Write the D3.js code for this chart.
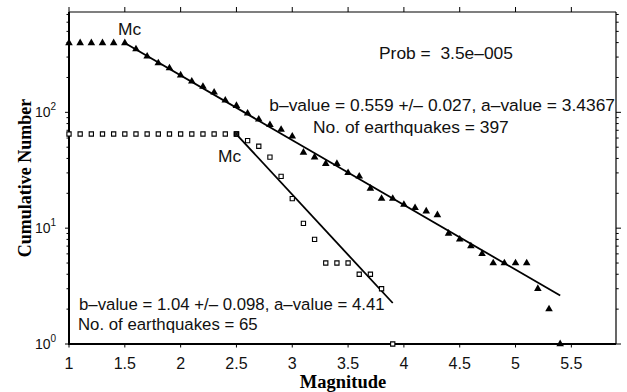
<!DOCTYPE html>
<html><head><meta charset="utf-8">
<script src="https://cdn.jsdelivr.net/npm/d3@7"></script>
<style>body{margin:0;background:#fff;} svg{display:block;}</style>
</head><body><div id="chart"></div>
<script>
// ---- data ----
const allMags   = [1.0,1.1,1.2,1.3,1.4,1.5,1.6,1.7,1.8,1.9,2.0,2.1,2.2,2.3,2.4,2.5,2.6,2.7,2.8,2.9,3.0,3.1,3.2,3.3,3.4,3.5,3.6,3.7,3.8,3.9,4.0,4.1,4.2,4.3,4.4,4.5,4.6,4.7,4.8,4.9,5.0,5.1,5.2,5.3,5.4];
const allCounts = [397,397,397,397,397,397,352,304,266,241,209,185,167,149,127,114,98,87,78,71,62,45,41,36,36,30,28,22,18,18,16,15,14,13,9,8,7,6,5,5,5,5,3,2,1];
const subMags   = [1.0,1.1,1.2,1.3,1.4,1.5,1.6,1.7,1.8,1.9,2.0,2.1,2.2,2.3,2.4,2.5,2.6,2.7,2.8,2.9,3.0,3.1,3.2,3.3,3.4,3.5,3.6,3.7,3.8,3.9];
const subCounts = [65,65,65,65,65,65,65,65,65,65,65,65,65,65,65,65,57,51,41,28,18,11,8,5,5,5,4,4,3,1];
const fitMc   = [1.5, 2.5];
const fitMmax = [5.4, 3.9];
const fitB    = [0.559, 1.04];
const fitA    = [3.4367, 4.41];
const xTicks = [1,1.5,2,2.5,3,3.5,4,4.5,5,5.5];
const xTickLabels = ["1","1.5","2","2.5","3","3.5","4","4.5","5","5.5"];
const yMajor = [1,10,100];
const yMajorExp = ["0","1","2"];
const yMinor = [2,3,4,5,6,7,8,9,20,30,40,50,60,70,80,90,200,300,400,500,600,700];
const xTitle = "Magnitude";
const yTitle = "Cumulative Number";
const probText = "Prob =  3.5e\u2013005";
const fitText1 = ["b\u2013value = 0.559 +/\u2013 0.027, a\u2013value = 3.4367", "No. of earthquakes = 397"];
const fitText2 = ["b\u2013value = 1.04 +/\u2013 0.098, a\u2013value = 4.41", "No. of earthquakes = 65"];
const mcLabel = "Mc";

// ---- chart ----
const W = 627, H = 392;
const L = 69, R = 616, T = 12, B = 344;
const svg = d3.select("#chart").append("svg").attr("width", W).attr("height", H);
const x = d3.scaleLinear().domain([1, 5.9]).range([L, R]);
const y = d3.scaleLog().domain([1, 735]).range([B, T]);
const sans = "Liberation Sans, Arial, sans-serif";
const serif = "Liberation Serif, Times New Roman, serif";

// ticks
const g = svg.append("g").attr("stroke", "#000");
g.selectAll(".tt").data(xTicks).join("line")
  .attr("x1", d => x(d)).attr("x2", d => x(d)).attr("y1", T).attr("y2", T - 5).attr("stroke-width", 1);
g.selectAll(".bt").data(xTicks).join("line")
  .attr("x1", d => x(d)).attr("x2", d => x(d)).attr("y1", B).attr("y2", B + 3.5).attr("stroke-width", 1);
g.selectAll(".lM").data(yMajor).join("line")
  .attr("x1", L).attr("x2", L - 4).attr("y1", d => y(d)).attr("y2", d => y(d)).attr("stroke-width", 1);
g.selectAll(".lm").data(yMinor).join("line")
  .attr("x1", L).attr("x2", L - 2.5).attr("y1", d => y(d)).attr("y2", d => y(d)).attr("stroke-width", 1);
g.selectAll(".rM").data(yMajor).join("line")
  .attr("x1", R).attr("x2", R + 5).attr("y1", d => y(d)).attr("y2", d => y(d)).attr("stroke-width", 1);
g.selectAll(".rm").data(yMinor).join("line")
  .attr("x1", R).attr("x2", R + 2.7).attr("y1", d => y(d)).attr("y2", d => y(d)).attr("stroke-width", 1);

// frame
svg.append("line").attr("x1", L).attr("x2", R).attr("y1", T).attr("y2", T).attr("stroke", "#000").attr("stroke-width", 1.2);
svg.append("line").attr("x1", R).attr("x2", R).attr("y1", T).attr("y2", B).attr("stroke", "#000").attr("stroke-width", 1.2);
svg.append("line").attr("x1", L).attr("x2", L).attr("y1", T).attr("y2", B + 1).attr("stroke", "#000").attr("stroke-width", 2);
svg.append("line").attr("x1", L - 1).attr("x2", R).attr("y1", B).attr("y2", B).attr("stroke", "#000").attr("stroke-width", 2);

// x tick labels
svg.selectAll(".xl").data(xTicks).join("text")
  .attr("x", d => x(d)).attr("y", B + 25).attr("text-anchor", "middle")
  .attr("font-family", sans).attr("font-size", 16).attr("fill", "#111")
  .text((d, i) => xTickLabels[i]);

// y tick labels
const yl = svg.selectAll(".yl").data(yMajor).join("text")
  .attr("x", 35).attr("y", d => y(d) + 5)
  .attr("font-family", sans).attr("font-size", 14).attr("fill", "#111");
yl.append("tspan").text("10");
yl.append("tspan").attr("dy", -7).attr("font-size", 10).text((d, i) => yMajorExp[i]);

// axis titles
svg.append("text").attr("x", 343).attr("y", 388).attr("text-anchor", "middle")
  .attr("font-family", serif).attr("font-weight", "bold").attr("font-size", 18.5).text(xTitle);
svg.append("text").attr("transform", `translate(31,178) rotate(-90)`).attr("text-anchor", "middle")
  .attr("font-family", serif).attr("font-weight", "bold").attr("font-size", 18).text(yTitle);

// fit lines
fitMc.forEach((mc, i) => {
  const m2 = fitMmax[i];
  svg.append("line")
    .attr("x1", x(mc)).attr("y1", y(Math.pow(10, fitA[i] - fitB[i] * mc)))
    .attr("x2", x(m2)).attr("y2", y(Math.pow(10, fitA[i] - fitB[i] * m2)))
    .attr("stroke", "#000").attr("stroke-width", 1.8);
});

// triangles
const tri = d3.symbol().type(d3.symbolTriangle).size(25);
svg.selectAll(".tri").data(allMags).join("path")
  .attr("d", tri).attr("fill", "#000")
  .attr("transform", (d, i) => `translate(${x(d)},${y(allCounts[i])})`);

// squares
const sq = d3.symbol().type(d3.symbolSquare).size(18);
svg.selectAll(".sq").data(subMags).join("path")
  .attr("d", sq).attr("fill", "#fff").attr("stroke", "#000").attr("stroke-width", 1.1)
  .attr("transform", (d, i) => `translate(${x(d)},${y(subCounts[i])})`);
// Mc marker on squares
const mcIdx = subMags.indexOf(fitMc[1]);
const mg = svg.append("g").attr("transform", `translate(${x(subMags[mcIdx])},${y(subCounts[mcIdx])})`);
mg.append("path").attr("d", sq).attr("fill", "#444").attr("stroke", "#000").attr("stroke-width", 1.3);
mg.append("path").attr("d", "M-2,-2L2,2M-2,2L2,-2").attr("stroke", "#000").attr("stroke-width", 1);

// annotations
const FS = 17.4;
const txt = (s, xx, yy, anchor, fs) => svg.append("text").attr("x", xx).attr("y", yy)
  .attr("text-anchor", anchor || "start").attr("font-family", sans).attr("font-size", fs || FS)
  .attr("fill", "#111").style("white-space", "pre").text(s);
txt(mcLabel, 118, 35);
txt(mcLabel, 218, 162);
txt(probText, 379, 59);
txt(fitText1[0], 615, 111, "end");
txt(fitText1[1], 313, 133);
txt(fitText2[0], 79, 310, "start", 16.8);
txt(fitText2[1], 78, 329.5, "start", 16.8);
</script></body></html>
